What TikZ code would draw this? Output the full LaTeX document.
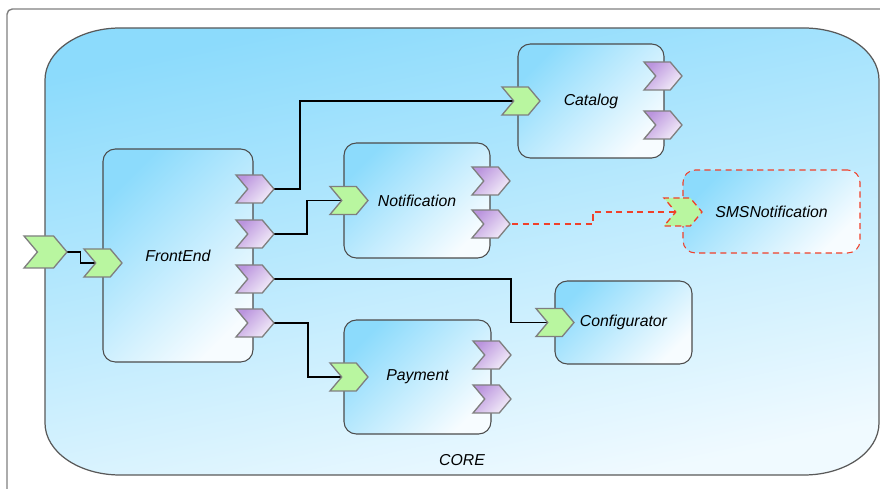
\documentclass[tikz,border=0pt]{standalone}
\usepackage{fontspec}
\setmainfont{Liberation Sans}
\usetikzlibrary{shapes.symbols}

\definecolor{corehi}{HTML}{8CDBFC}
\definecolor{corelo}{HTML}{F0FAFF}
\definecolor{boxhi}{HTML}{8CDBFC}
\definecolor{boxlo}{HTML}{F7FCFF}
\definecolor{outhi}{HTML}{BB95DE}
\definecolor{outlo}{HTML}{F3EDF9}
\definecolor{ingreen}{HTML}{B9F6A0}
\definecolor{edgegray}{HTML}{7F7F7F}
\definecolor{optred}{HTML}{F0402A}

\pgfdeclarelayer{back}
\pgfdeclarelayer{wires}
\pgfsetlayers{back,wires,main}

\begin{document}
\begin{tikzpicture}[x=0.02cm, y=-0.02cm, font=\fontsize{9}{11}\selectfont\itshape]

  \tikzset{comp/.style={draw=black!70, line width=0.6pt, rounded corners=7pt,
                        top color=boxhi, bottom color=boxlo, shading angle=45},
           port/.style={signal, signal from=west, signal to=east, signal pointer angle=100,
                        minimum width=0.76cm, minimum height=0.56cm, inner sep=0pt,
                        draw=edgegray, line width=0.75pt},
           inport/.style={port, fill=ingreen},
           outport/.style={port, top color=outhi, bottom color=outlo, shading angle=45},
           optional/.style={draw=optred, dashed, dash pattern=on 3.5pt off 2.5pt},
           wire/.style={black, line width=0.8pt},
           optwire/.style={wire, optred, dash pattern=on 3.5pt off 2.5pt}}

  \useasboundingbox (0,0) rectangle (880,489);

  % frame and the CORE container
  \draw[edgegray, line width=0.8pt, rounded corners=3pt] (7,489) -- (7,9) -- (880,9);
  \begin{pgfonlayer}{back}
    \draw[black!65, line width=0.7pt, top color=corehi, bottom color=corelo, shading angle=12]
      (45,80) .. controls (45,51) and (79,28) .. (120,28) -- (804,28)
      .. controls (845,28) and (879,51) .. (879,80) -- (879,423)
      .. controls (879,452) and (845,475) .. (804,475) -- (120,475)
      .. controls (79,475) and (45,452) .. (45,423) -- cycle;
    \node (core) at (462,460) {CORE};

    % components
    \node[comp, minimum width=3cm, minimum height=4.26cm] (frontend) at (178,255.5) {FrontEnd};
    \node[comp, minimum width=2.92cm, minimum height=2.28cm] (catalog) at (591,101) {Catalog};
    \node[comp, minimum width=2.92cm, minimum height=2.3cm] (notif) at (417,200.5) {Notification};
    \node[comp, optional, minimum width=3.54cm, minimum height=1.66cm] (sms) at (771.5,211.5) {SMSNotification};
    \node[comp, minimum width=2.74cm, minimum height=1.66cm] (config) at (623.5,322.5) {Configurator};
    \node[comp, minimum width=2.94cm, minimum height=2.28cm] (payment) at (417.5,377) {Payment};
  \end{pgfonlayer}

  % ports
  \node[inport, minimum width=0.86cm, minimum height=0.64cm] (ext) at (45.5,252) {};
  \node[inport] (fe0) at (103,263) {};
  \foreach \n/\y in {1/189, 2/234, 3/279, 4/323}
    \node[outport] (fe\n) at (255,\y) {};
  \node[inport] (cat0) at (521,101) {};
  \foreach \n/\y in {1/76, 2/125}
    \node[outport] (cat\n) at (663,\y) {};
  \node[inport] (no0) at (349,200.5) {};
  \foreach \n/\y in {1/181, 2/224}
    \node[outport] (no\n) at (491,\y) {};
  \node[inport, optional] (sms0) at (683,212) {};
  \node[inport] (conf0) at (555,322.5) {};
  \node[inport] (pay0) at (349,377) {};
  \foreach \n/\y in {1/355, 2/399}
    \node[outport] (pay\n) at (492,\y) {};

  % bindings
  \begin{pgfonlayer}{wires}
    \draw[wire] (ext.center) -- ++(35,0) |- (fe0.center);
    \draw[wire] (fe1.center) -- ++(45,0) |- (cat0.center);
    \draw[wire] (fe2.center) -- ++(52,0) |- (no0.center);
    \draw[wire] (fe3.center) -- ++(256,0) |- (conf0.center);
    \draw[wire] (fe4.center) -- ++(53,0) |- (pay0.center);
    \draw[optwire] (no2.center) -- ++(102,0) |- (sms0.center);
  \end{pgfonlayer}

\end{tikzpicture}
\end{document}
